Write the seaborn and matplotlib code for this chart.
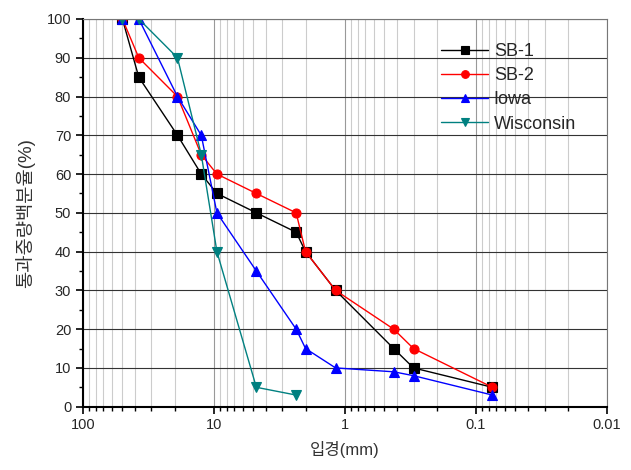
import pandas as pd
import seaborn as sns
import matplotlib.pyplot as plt
from matplotlib.ticker import LogLocator, MultipleLocator, NullFormatter

# sieve sizes (mm) and percent passing
sb1_size = [50, 37.5, 19, 12.5, 9.5, 4.75, 2.36, 2.0, 1.18, 0.425, 0.3, 0.075]
sb1_pass = [100, 85, 70, 60, 55, 50, 45, 40, 30, 15, 10, 5]

sb2_size = [50, 37.5, 19, 12.5, 9.5, 4.75, 2.36, 2.0, 1.18, 0.425, 0.3, 0.075]
sb2_pass = [100, 90, 80, 65, 60, 55, 50, 40, 30, 20, 15, 5]

iowa_size = [50, 37.5, 19, 12.5, 9.5, 4.75, 2.36, 2.0, 1.18, 0.425, 0.3, 0.075]
iowa_pass = [100, 100, 80, 70, 50, 35, 20, 15, 10, 9, 8, 3]

wis_size = [50, 37.5, 19, 12.5, 9.5, 4.75, 2.36]
wis_pass = [100, 100, 90, 65, 40, 5, 3]

series = ["SB-1", "SB-2", "Iowa", "Wisconsin"]
colors = {"SB-1": "black", "SB-2": "#ff0000", "Iowa": "#0000ff", "Wisconsin": "#008080"}
markers = {"SB-1": "s", "SB-2": "o", "Iowa": "^", "Wisconsin": "v"}

frames = []
for name, xs, ys in zip(series,
                        [sb1_size, sb2_size, iowa_size, wis_size],
                        [sb1_pass, sb2_pass, iowa_pass, wis_pass]):
    frames.append(pd.DataFrame({"size": xs, "pass": ys, "sample": name}))
df = pd.concat(frames, ignore_index=True)

sns.set_theme(style="white")
plt.rcParams['font.family'] = ['Liberation Sans', 'Noto Sans CJK KR', 'DejaVu Sans']

fig = plt.figure(figsize=(6.31, 4.70), dpi=100)
ax = fig.add_axes([0.1315, 0.1347, 0.8305, 0.8249])

sns.lineplot(data=df, x="size", y="pass", hue="sample", style="sample",
             hue_order=series, style_order=series, palette=colors,
             markers=markers, dashes=False, sort=False, estimator=None,
             markersize=6.5, markeredgewidth=0.8, linewidth=1.0, ax=ax)
for line in ax.get_lines():
    line.set_markeredgecolor(line.get_color())

ax.set_xscale("log")
ax.set_xlim(100, 0.01)
ax.set_ylim(0, 100)

ax.set_xticks([100, 10, 1, 0.1, 0.01])
ax.set_xticklabels(["100", "10", "1", "0.1", "0.01"])
ax.xaxis.set_minor_locator(LogLocator(base=10, subs=range(2, 10), numticks=20))
ax.xaxis.set_minor_formatter(NullFormatter())
ax.yaxis.set_major_locator(MultipleLocator(10))
ax.yaxis.set_minor_locator(MultipleLocator(5))

ax.grid(True, axis="y", which="major", color="#333333", linewidth=0.8)
ax.grid(True, axis="x", which="major", color="#999999", linewidth=0.8)
ax.grid(True, axis="x", which="minor", color="#cccccc", linewidth=0.8)
ax.set_axisbelow(True)

ax.tick_params(axis="both", which="major", direction="out", length=5, width=1.2,
               labelsize=10.5, color="black", bottom=True, left=True)
ax.tick_params(axis="both", which="minor", direction="out", length=3, width=1.0,
               color="black", bottom=True, left=True)

for side in ["left", "bottom"]:
    ax.spines[side].set_color("black")
    ax.spines[side].set_linewidth(1.5)
for side in ["top", "right"]:
    ax.spines[side].set_color("#777777")
    ax.spines[side].set_linewidth(0.8)

ax.set_xlabel("입경(mm)", fontsize=12, color="#333333", labelpad=6)
ax.set_ylabel("통과중량백분율(%)", fontsize=13.5, color="#333333", labelpad=8)

leg = ax.legend(loc="upper right", bbox_to_anchor=(0.972, 0.98), frameon=False,
                fontsize=13, handlelength=2.6, handletextpad=0.3,
                labelspacing=0.4, markerscale=0.85)

fig.savefig("out.png", dpi=100)
